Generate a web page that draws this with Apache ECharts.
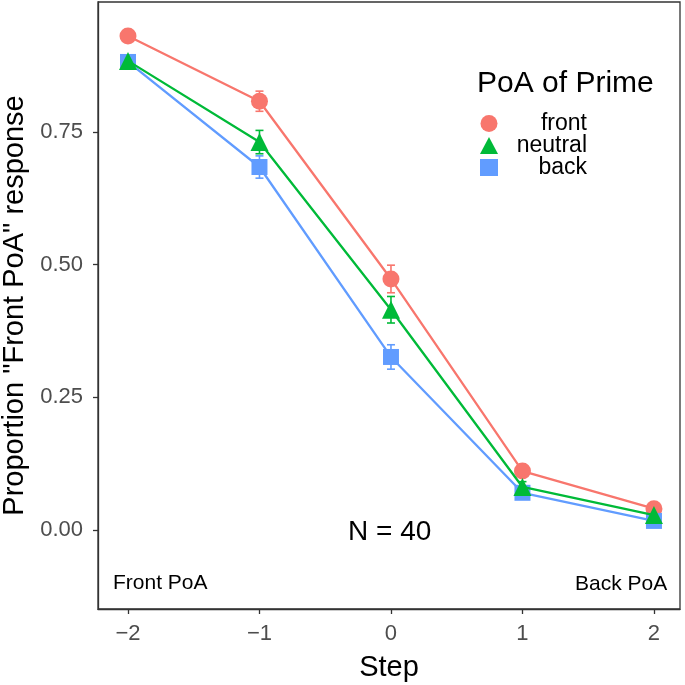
<!DOCTYPE html>
<html><head><meta charset="utf-8">
<script src="https://cdn.jsdelivr.net/npm/echarts@6/dist/echarts.min.js"></script>
<style>html,body{margin:0;padding:0;background:#fff}#c{width:685px;height:685px}</style>
</head><body><div id="c"></div>
<script>
const steps = [-2, -1, 0, 1, 2];
const yTicks = [0, 0.25, 0.5, 0.75];
const seriesNames = ['front', 'neutral', 'back'];
const frontVals = [0.931, 0.808, 0.473, 0.111, 0.040];
const neutralVals = [0.884, 0.731, 0.415, 0.081, 0.028];
const backVals = [0.882, 0.684, 0.326, 0.070, 0.017];
const frontErr = [0.009, 0.019, 0.026, 0.010, 0.007];
const neutralErr = [0.010, 0.022, 0.025, 0.010, 0.006];
const backErr = [0.010, 0.021, 0.023, 0.009, 0.006];

const colors = ['#F8766D', '#00BA38', '#619CFF'];
const symbols = ['circle', 'triangle', 'rect'];
const sizes = [17, 18, 16];
const zOrder = [3, 5, 4];
const vals = [frontVals, neutralVals, backVals];
const errs = [frontErr, neutralErr, backErr];
const FONT = 'Liberation Sans, Arial, sans-serif';

const chart = echarts.init(document.getElementById('c'));
const series = [];
seriesNames.forEach((n, i) => {
  series.push({
    type: 'custom', name: n + '_err', silent: true, z: 2,
    data: steps.map((s, k) => [s, vals[i][k] - errs[i][k], vals[i][k] + errs[i][k]]),
    renderItem: function (params, api) {
      const lo = api.coord([api.value(0), api.value(1)]);
      const hi = api.coord([api.value(0), api.value(2)]);
      const w = 4;
      const st = { stroke: colors[i], lineWidth: 1.6 };
      return { type: 'group', children: [
        { type: 'line', shape: { x1: lo[0], y1: lo[1], x2: hi[0], y2: hi[1] }, style: st },
        { type: 'line', shape: { x1: lo[0] - w, y1: lo[1], x2: lo[0] + w, y2: lo[1] }, style: st },
        { type: 'line', shape: { x1: hi[0] - w, y1: hi[1], x2: hi[0] + w, y2: hi[1] }, style: st }
      ]};
    }
  });
  series.push({
    type: 'line', name: n, z: zOrder[i],
    data: steps.map((s, k) => [s, vals[i][k]]),
    symbol: symbols[i], symbolSize: sizes[i], showSymbol: true,
    itemStyle: { color: colors[i] },
    lineStyle: { color: colors[i], width: 2.3 },
    emphasis: { disabled: true }
  });
});

chart.setOption({
  animation: false,
  grid: { left: 98, top: 2, right: 5, bottom: 76, show: true, borderColor: '#333', borderWidth: 1.3,
    containLabel: false, outerBoundsMode: 'none' },
  xAxis: {
    type: 'value', min: -2.228, max: 2.198,
    name: 'Step', nameLocation: 'middle', nameGap: 44,
    nameTextStyle: { fontSize: 29, color: '#000', fontFamily: FONT },
    axisLine: { show: true, onZero: false, lineStyle: { color: '#333', width: 1.3 } },
    axisTick: { show: true, length: 5, lineStyle: { color: '#333', width: 1.3 }, customValues: steps },
    axisLabel: { color: '#4D4D4D', fontSize: 22, fontFamily: FONT, margin: 14, customValues: steps,
      formatter: v => (v < 0 ? '\u2212' + Math.abs(v) : String(v)) },
    splitLine: { show: false }
  },
  yAxis: {
    type: 'value', min: -0.149, max: 0.995,
    name: 'Proportion "Front PoA" response', nameLocation: 'middle', nameGap: 64,
    nameTextStyle: { fontSize: 29, color: '#000', fontFamily: FONT },
    axisLine: { show: true, onZero: false, lineStyle: { color: '#333', width: 1.3 } },
    axisTick: { show: true, length: 5, lineStyle: { color: '#333', width: 1.3 }, customValues: yTicks },
    axisLabel: { color: '#4D4D4D', fontSize: 22, fontFamily: FONT, margin: 15, customValues: yTicks,
      formatter: v => v.toFixed(2) },
    splitLine: { show: false }
  },
  legend: {
    data: seriesNames.map((n, i) => ({ name: n, icon: symbols[i] })),
    orient: 'vertical', left: 480, top: 112, itemGap: -1, padding: 0,
    itemWidth: 18, itemHeight: 17,
    formatter: '{a|{name}}',
    textStyle: { fontSize: 23, color: '#000', fontFamily: FONT,
      rich: { a: { fontSize: 23, fontFamily: FONT, width: 84, align: 'right', lineHeight: 21 } } }
  },
  graphic: [
    { type: 'text', left: 477, top: 69, style: { text: 'PoA of Prime', fontSize: 30, fill: '#000', fontFamily: FONT } },
    { type: 'text', left: 348, top: 518, style: { text: 'N = 40', fontSize: 28, fill: '#000', fontFamily: FONT } },
    { type: 'text', left: 113, top: 573, style: { text: 'Front PoA', fontSize: 21, fill: '#000', fontFamily: FONT } },
    { type: 'text', left: 575, top: 574, style: { text: 'Back PoA', fontSize: 21, fill: '#000', fontFamily: FONT } }
  ],
  series: series
});
</script></body></html>
